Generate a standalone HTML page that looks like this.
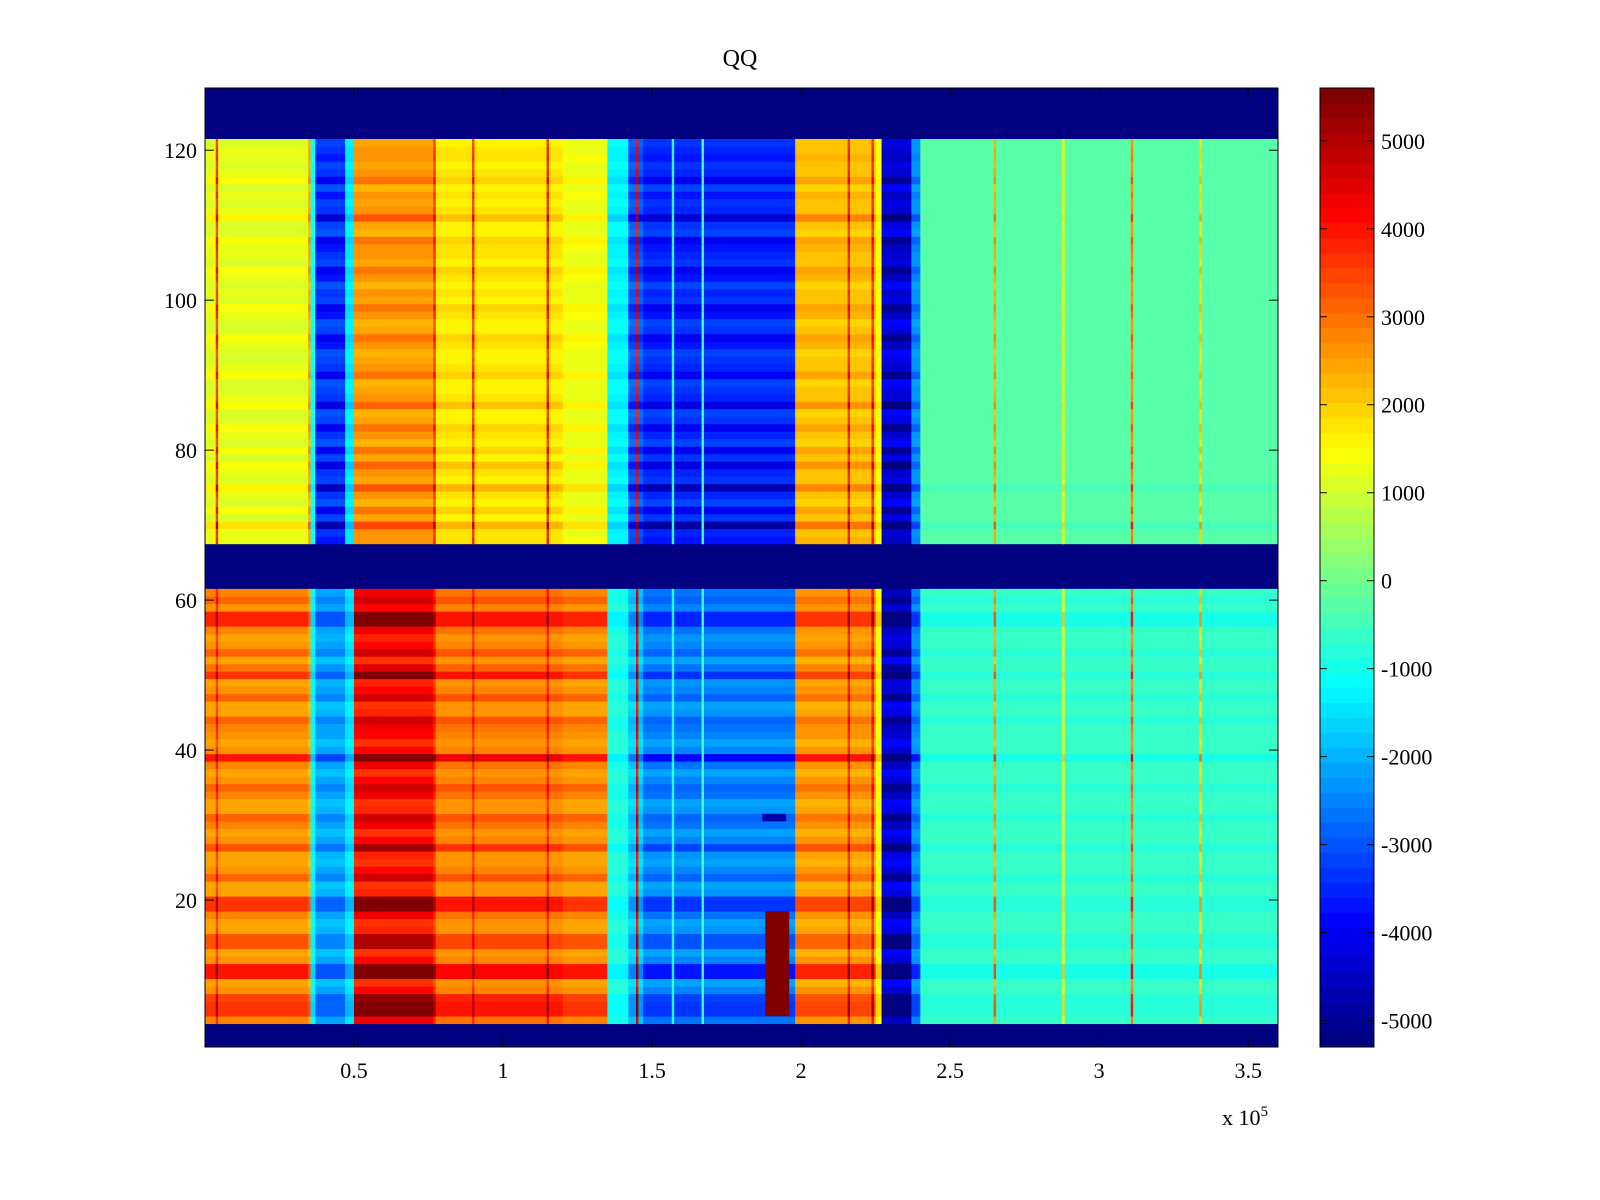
<!DOCTYPE html>
<html><head><meta charset="utf-8"><title>QQ</title>
<style>
html,body{margin:0;padding:0;background:#fff;}
svg{display:block;font-family:"Liberation Serif",serif;}
</style></head>
<body>
<svg id="chart" width="1600" height="1200" viewBox="0 0 1600 1200" xmlns="http://www.w3.org/2000/svg">
<rect width="1600" height="1200" fill="#fff"/>
<text x="740" y="66" font-size="24" text-anchor="middle">QQ</text>
<g id="plot"></g>
<g id="cbar"></g>
<g id="axes"></g>
<text x="1222" y="1125" font-size="22">x 10<tspan dy="-9" font-size="15">5</tspan></text>
</svg>
<script>
// ---- data ----
const segStart = [0,0.35,0.37,0.47,0.50,0.77,1.20,1.35,1.42,1.47,1.98,2.25,2.27,2.37,2.40];
const upperVals = [1300,-1000,-3600,-1500,2700,1800,1400,-1300,-3200,-3700,2300,1500,-4600,-2500,-300];
const lowerVals = [2800,-1200,-2200,-1500,4300,3000,2800,-900,-1800,-2600,2700,1500,-4600,-2500,-650];
const lineX = [0.04,0.35,0.77,0.90,1.15,1.45,1.57,1.67,2.16,2.24,2.65,2.88,3.11,3.34];
const lineVal = [3800,2500,3800,3800,4000,4500,-800,-500,4000,4000,2500,1500,3000,2000];
const patchX0 = [1.88,1.87];
const patchX1 = [1.96,1.95];
const patchRowLo = [5,31];
const patchRowHi = [18,31];
const patchVal = [5600,-4800];
// row gain for rows 1..128 (null = empty row)
const rowGain = [
null,null,null,
1.0,1.3,1.3,1.25,0.95,0.85,1.4,1.4,0.95,0.85,1.15,1.15,0.9,0.85,1.0,1.3,1.3,
0.9,0.85,1.1,0.95,0.85,0.9,1.2,0.95,0.85,1.0,1.1,0.9,0.85,1.0,1.1,0.95,0.85,1.0,1.45,0.95,
0.85,0.95,1.0,1.1,0.9,0.85,1.1,0.95,0.9,1.3,1.05,0.85,1.1,0.95,0.9,1.0,1.35,1.35,0.95,1.1,1.0,
null,null,null,null,null,null,
1.0,0.95,1.3,0.9,1.1,0.85,0.95,1.25,0.9,0.95,1.15,0.9,1.1,0.85,0.95,1.1,0.9,0.85,1.15,0.95,
0.9,0.85,1.1,0.95,0.9,0.85,1.0,1.1,0.9,0.85,1.0,1.1,0.9,0.95,0.85,1.0,1.1,0.9,0.95,1.0,
1.1,0.85,0.9,1.2,0.95,0.9,1.0,0.85,1.1,0.95,0.9,1.0,0.95,0.9,
null,null,null,null,null,null,null
];
const xTicks = [0.5,1,1.5,2,2.5,3,3.5];
const xTickLabels = ["0.5","1","1.5","2","2.5","3","3.5"];
const yTicks = [20,40,60,80,100,120];
const cTicks = [-5000,-4000,-3000,-2000,-1000,0,1000,2000,3000,4000,5000];

// ---- scales ----
const X0=205,X1=1278,Y0=88,Y1=1047;
const xDom=[0,3.6], yDom=[0.4,128.3], cDom=[-5300,5600];
const sx=v=>X0+(v-xDom[0])/(xDom[1]-xDom[0])*(X1-X0);
const sy=v=>Y1-(v-yDom[0])/(yDom[1]-yDom[0])*(Y1-Y0);
const sc=v=>Y1-(v-cDom[0])/(cDom[1]-cDom[0])*(Y1-Y0);
function jet(v){
  let t=(v-cDom[0])/(cDom[1]-cDom[0]); t=Math.max(0,Math.min(1,t));
  t=Math.floor(t*63.999)/63;
  const c=a=>Math.round(255*Math.max(0,Math.min(1,1.5-Math.abs(a))));
  return `rgb(${c(4*t-3)},${c(4*t-2)},${c(4*t-1)})`;
}
const NS="http://www.w3.org/2000/svg";
function mk(tag,attrs,parent){const e=document.createElementNS(NS,tag);for(const k in attrs)e.setAttribute(k,attrs[k]);parent.appendChild(e);return e;}
const plot=document.getElementById('plot'), cbar=document.getElementById('cbar'), axes=document.getElementById('axes');

mk('rect',{x:X0,y:Y0,width:X1-X0,height:Y1-Y0,fill:jet(cDom[0])},plot);
for(let r=1;r<=rowGain.length;r++){
  const g=rowGain[r-1]; if(g===null) continue;
  const yt=sy(r+0.5), yb=sy(r-0.5);
  const vals = r<64?lowerVals:upperVals;
  for(let s=0;s<segStart.length;s++){
    const xa=sx(segStart[s]), xb=sx(s+1<segStart.length?segStart[s+1]:xDom[1]);
    const el=mk('rect',{x:xa,y:yt,width:xb-xa+0.5,height:yb-yt+0.3,fill:jet(vals[s]*g)},plot);
    
    
  }
  for(let i=0;i<lineX.length;i++){
    const xa=sx(lineX[i]-0.004), xb=sx(lineX[i]+0.004);
    const el=mk('rect',{x:xa,y:yt,width:xb-xa,height:yb-yt+0.3,fill:jet(lineVal[i]*g)},plot);
    
    
  }
}
for(let i=0;i<patchVal.length;i++){
  const el=mk('rect',{x:sx(patchX0[i]),y:sy(patchRowHi[i]+0.5),width:sx(patchX1[i])-sx(patchX0[i]),height:sy(patchRowLo[i]-0.5)-sy(patchRowHi[i]+0.5),fill:jet(patchVal[i])},plot);
  
  
}
mk('rect',{x:X0,y:Y0,width:X1-X0,height:Y1-Y0,fill:'none',stroke:'#000','stroke-width':1},axes);
xTicks.forEach((t,i)=>{
  const x=sx(t);
  mk('line',{x1:x,y1:Y1,x2:x,y2:Y1-9,stroke:'#000'},axes);
  mk('line',{x1:x,y1:Y0,x2:x,y2:Y0+9,stroke:'#000'},axes);
  const tx=mk('text',{x:x,y:Y1+31,'font-size':22,'text-anchor':'middle'},axes);
  tx.textContent=xTickLabels[i];
  
  
});
yTicks.forEach(t=>{
  const y=sy(t);
  mk('line',{x1:X0,y1:y,x2:X0+9,y2:y,stroke:'#000'},axes);
  mk('line',{x1:X1,y1:y,x2:X1-9,y2:y,stroke:'#000'},axes);
  const tx=mk('text',{x:X0-8,y:y+8,'font-size':22,'text-anchor':'end'},axes);
  tx.textContent=String(t);
  
  
});
// colorbar
const CB0=1320,CB1=1374;
for(let i=0;i<64;i++){
  const va=cDom[0]+(cDom[1]-cDom[0])*i/64, vb=cDom[0]+(cDom[1]-cDom[0])*(i+1)/64;
  const el=mk('rect',{x:CB0,y:sc(vb),width:CB1-CB0,height:sc(va)-sc(vb)+0.5,fill:jet((va+vb)/2)},cbar);
  
  
}
mk('rect',{x:CB0,y:Y0,width:CB1-CB0,height:Y1-Y0,fill:'none',stroke:'#000'},cbar);
cTicks.forEach(t=>{
  const y=sc(t);
  mk('line',{x1:CB0,y1:y,x2:CB0+7,y2:y,stroke:'#000'},cbar);
  mk('line',{x1:CB1,y1:y,x2:CB1-7,y2:y,stroke:'#000'},cbar);
  const tx=mk('text',{x:CB1+7,y:y+8,'font-size':22},cbar);
  tx.textContent=String(t);
  
  
});
</script>
</body></html>
